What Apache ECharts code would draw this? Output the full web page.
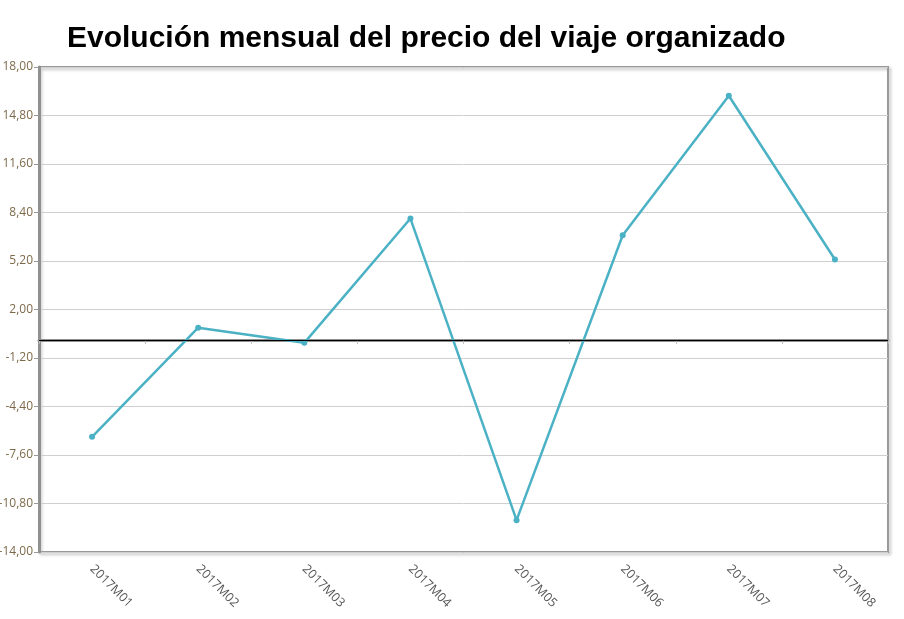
<!DOCTYPE html>
<html>
<head>
<meta charset="utf-8">
<script src="https://cdn.jsdelivr.net/npm/echarts@6/dist/echarts.min.js"></script>
<style>html,body{margin:0;padding:0;background:#fff;}#c{width:904px;height:619px;}</style>
</head>
<body>
<div id="c"></div>
<script>
const titleText = 'Evolución mensual del precio del viaje organizado';
const categories = ['2017M01','2017M02','2017M03','2017M04','2017M05','2017M06','2017M07','2017M08'];
const values = [-6.4, 0.8, -0.2, 8.0, -11.9, 6.9, 16.1, 5.3];
const yMin = -14, yMax = 18, yStep = 3.2;

const chart = echarts.init(document.getElementById('c'));
chart.setOption({
  animation: false,
  backgroundColor: '#fff',
  title: {
    text: titleText,
    left: 62, top: 19,
    textStyle: {fontFamily: 'Liberation Sans, Arial', fontWeight: 'bold', fontSize: 30, color: '#000'}
  },
  grid: {
    left: 39, right: 16, top: 67, bottom: 67,
    outerBoundsMode: 'none', containLabel: false,
    show: true, borderColor: '#9a9a9a', borderWidth: 2,
    shadowColor: 'rgba(0,0,0,0.25)', shadowBlur: 3, shadowOffsetX: 2, shadowOffsetY: 2
  },
  xAxis: {
    type: 'category', data: categories, boundaryGap: true,
    axisLine: {lineStyle: {color: '#909090', width: 3}},
    axisTick: {show: true, length: 4, lineStyle: {color: '#bbb'}},
    axisLabel: {rotate: -45, color: '#555', fontSize: 12.5, fontFamily: 'Open Sans, DejaVu Sans', margin: 15}
  },
  yAxis: {
    type: 'value', min: yMin, max: yMax, interval: yStep,
    axisLine: {show: true, lineStyle: {color: '#909090', width: 3}},
    axisTick: {show: true, length: 5, lineStyle: {color: '#999'}},
    axisLabel: {color: '#7d6a4a', fontSize: 12, fontFamily: 'Open Sans, DejaVu Sans', margin: 6,
      formatter: v => v.toFixed(2).replace('.', ',')},
    splitLine: {lineStyle: {color: '#cfcfcf', width: 1}}
  },
  series: [{
    type: 'line', data: values,
    lineStyle: {color: '#4bb1c4', width: 2.5},
    itemStyle: {color: '#4bb1c4'},
    symbol: 'circle', symbolSize: 6,
    markLine: {
      silent: true, symbol: 'none', label: {show: false},
      lineStyle: {color: '#000', width: 1, type: 'solid'},
      data: [{yAxis: 0}]
    }
  }]
});
</script>
</body>
</html>
